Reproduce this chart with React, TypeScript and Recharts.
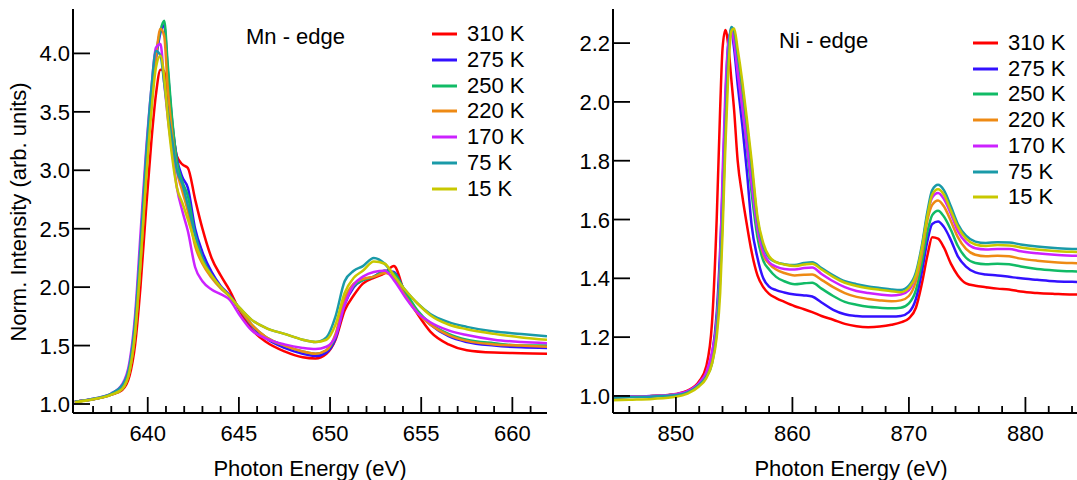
import React from 'react';
import { LineChart, Line, XAxis, YAxis } from 'recharts';

const FONT = '"Liberation Sans", Arial, Helvetica, sans-serif';

// series labels and colours (legend order)
const temps = ['310 K', '275 K', '250 K', '220 K', '170 K', '75 K', '15 K'];
const keys = ['t310', 't275', 't250', 't220', 't170', 't75', 't15'];
const colors = ['#ff0000', '#3311ff', '#11bb66', '#ee8a14', '#cc22ff', '#1a9aa8', '#c8c800'];

// ---- Mn L-edge ----
const mnEnergy = [636.0, 637.0, 638.0, 638.6, 639.0, 639.3, 639.6, 639.9, 640.2, 640.45, 640.7, 640.9, 641.1, 641.35, 641.6, 641.9, 642.2, 642.6, 643.0, 643.5, 644.0, 644.5, 645.0, 645.7, 646.5, 647.5, 648.5, 649.2, 649.8, 650.3, 650.8, 651.3, 651.8, 652.4, 653.0, 653.5, 654.1, 654.8, 655.5, 656.5, 657.5, 659.0, 660.5, 661.9];
const mn310 = [1.02, 1.04, 1.08, 1.12, 1.24, 1.5, 2.0, 2.65, 3.25, 3.65, 3.86, 3.85, 3.6, 3.35, 3.12, 3.05, 3.02, 2.75, 2.5, 2.25, 2.1, 1.97, 1.81, 1.64, 1.53, 1.45, 1.4, 1.39, 1.43, 1.55, 1.8, 1.93, 2.03, 2.08, 2.12, 2.18, 1.95, 1.77, 1.62, 1.51, 1.46, 1.44, 1.435, 1.43];
const mn275 = [1.02, 1.04, 1.085, 1.14, 1.3, 1.62, 2.25, 3.0, 3.65, 3.95, 4.18, 4.24, 3.85, 3.4, 3.1, 2.94, 2.85, 2.5, 2.3, 2.13, 2.01, 1.93, 1.82, 1.67, 1.56, 1.48, 1.43, 1.41, 1.44, 1.56, 1.85, 2.0, 2.06, 2.09, 2.14, 2.13, 1.96, 1.79, 1.68, 1.58, 1.53, 1.5, 1.485, 1.48];
const mn250 = [1.02, 1.04, 1.08, 1.13, 1.28, 1.6, 2.2, 2.95, 3.6, 3.98, 4.2, 4.28, 3.9, 3.42, 3.08, 2.9, 2.78, 2.45, 2.25, 2.1, 2.0, 1.92, 1.82, 1.68, 1.57, 1.5, 1.45, 1.43, 1.46, 1.58, 1.87, 2.01, 2.06, 2.09, 2.14, 2.12, 1.97, 1.8, 1.69, 1.6, 1.55, 1.52, 1.5, 1.5];
const mn220 = [1.02, 1.04, 1.08, 1.13, 1.28, 1.6, 2.2, 2.95, 3.6, 3.97, 4.21, 4.15, 3.7, 3.3, 3.0, 2.82, 2.65, 2.35, 2.2, 2.08, 1.99, 1.92, 1.82, 1.68, 1.57, 1.5, 1.45, 1.43, 1.46, 1.6, 1.9, 2.03, 2.07, 2.09, 2.12, 2.08, 1.93, 1.78, 1.68, 1.59, 1.54, 1.51, 1.5, 1.49];
const mn170 = [1.02, 1.045, 1.09, 1.17, 1.36, 1.75, 2.45, 3.15, 3.7, 4.05, 4.08, 3.75, 3.45, 3.15, 2.85, 2.65, 2.48, 2.17, 2.05, 1.98, 1.94, 1.89, 1.77, 1.63, 1.56, 1.51, 1.48, 1.47, 1.49, 1.58, 1.85, 2.02, 2.09, 2.13, 2.14, 2.06, 1.92, 1.78, 1.7, 1.63, 1.59, 1.55, 1.53, 1.52];
const mn75 = [1.02, 1.045, 1.09, 1.16, 1.33, 1.7, 2.35, 3.1, 3.7, 4.02, 3.98, 3.75, 3.5, 3.25, 3.0, 2.88, 2.7, 2.45, 2.25, 2.1, 2.0, 1.92, 1.83, 1.72, 1.65, 1.6, 1.55, 1.53, 1.57, 1.75, 2.05, 2.14, 2.18, 2.25, 2.2, 2.1, 1.98, 1.86, 1.77, 1.7, 1.66, 1.62, 1.6, 1.58];
const mn15 = [1.015, 1.04, 1.08, 1.13, 1.28, 1.6, 2.2, 2.9, 3.5, 3.88, 3.98, 3.8, 3.45, 3.1, 2.85, 2.72, 2.58, 2.38, 2.22, 2.1, 2.0, 1.92, 1.83, 1.72, 1.65, 1.6, 1.55, 1.53, 1.55, 1.68, 1.95, 2.08, 2.14, 2.22, 2.2, 2.1, 1.98, 1.86, 1.76, 1.68, 1.64, 1.6, 1.57, 1.55];

// ---- Ni L-edge ----
const niEnergy = [844.6, 846, 848, 850, 851, 852, 852.6, 853.1, 853.5, 853.8, 854.0, 854.25, 854.5, 854.75, 855.0, 855.3, 855.7, 856.1, 856.5, 857.0, 857.5, 858.0, 858.6, 859.3, 860.2, 861.0, 861.7, 862.5, 863.5, 864.5, 865.5, 866.5, 867.5, 868.5, 869.3, 870.0, 870.6, 871.1, 871.6, 872.0, 872.5, 873.0, 873.6, 874.2, 874.9, 875.7, 876.6, 877.6, 878.6, 879.6, 881.0, 882.5, 884.0, 885.5];
const ni310 = [0.995, 0.997, 1.0, 1.007, 1.018, 1.05, 1.1, 1.25, 1.6, 1.98, 2.18, 2.245, 2.19, 2.08, 1.97, 1.8, 1.68, 1.58, 1.49, 1.41, 1.37, 1.347, 1.333, 1.32, 1.305, 1.295, 1.285, 1.272, 1.259, 1.245, 1.237, 1.234, 1.236, 1.242, 1.25, 1.264, 1.3, 1.38, 1.48, 1.54, 1.535, 1.505, 1.45, 1.41, 1.383, 1.375, 1.37, 1.365, 1.362, 1.355, 1.35, 1.347, 1.345, 1.345];
const ni275 = [0.998, 0.998, 1.0, 1.005, 1.015, 1.04, 1.075, 1.14, 1.28, 1.5, 1.7, 2.0, 2.2, 2.24, 2.18, 2.06, 1.92, 1.76, 1.58, 1.47, 1.4, 1.372, 1.36, 1.352, 1.345, 1.342, 1.338, 1.318, 1.293, 1.278, 1.272, 1.27, 1.27, 1.27, 1.272, 1.285, 1.33, 1.42, 1.53, 1.585, 1.593, 1.575, 1.53, 1.475, 1.44, 1.42, 1.413, 1.41, 1.405, 1.4, 1.395, 1.39, 1.388, 1.387];
const ni250 = [0.995, 0.997, 1.0, 1.005, 1.014, 1.04, 1.072, 1.13, 1.26, 1.45, 1.66, 1.96, 2.17, 2.25, 2.21, 2.11, 1.98, 1.84, 1.69, 1.54, 1.46, 1.43, 1.405, 1.39, 1.38, 1.383, 1.385, 1.365, 1.34, 1.32, 1.31, 1.303, 1.3, 1.298, 1.3, 1.315, 1.36, 1.45, 1.56, 1.615, 1.63, 1.61, 1.565, 1.51, 1.47, 1.452, 1.448, 1.45, 1.448, 1.44, 1.432, 1.427, 1.424, 1.422];
const ni220 = [0.995, 0.997, 1.0, 1.005, 1.014, 1.04, 1.07, 1.12, 1.24, 1.43, 1.63, 1.93, 2.16, 2.25, 2.22, 2.13, 2.01, 1.88, 1.74, 1.57, 1.48, 1.45, 1.43, 1.418, 1.41, 1.412, 1.413, 1.395, 1.37, 1.35, 1.337, 1.33, 1.325, 1.322, 1.325, 1.34, 1.39, 1.48, 1.6, 1.65, 1.665, 1.645, 1.595, 1.54, 1.5, 1.48, 1.475, 1.477, 1.475, 1.467, 1.46, 1.455, 1.452, 1.45];
const ni170 = [0.998, 0.998, 1.0, 1.006, 1.016, 1.045, 1.08, 1.15, 1.25, 1.45, 1.75, 2.04, 2.2, 2.24, 2.2, 2.1, 1.98, 1.85, 1.72, 1.57, 1.49, 1.455, 1.44, 1.432, 1.43, 1.435, 1.437, 1.415, 1.39, 1.37, 1.357, 1.35, 1.345, 1.342, 1.345, 1.36, 1.41, 1.5, 1.62, 1.675, 1.69, 1.67, 1.62, 1.56, 1.522, 1.502, 1.498, 1.5, 1.5, 1.492, 1.485, 1.48, 1.477, 1.475];
const ni75 = [0.995, 0.996, 0.998, 1.003, 1.012, 1.038, 1.065, 1.11, 1.22, 1.4, 1.6, 1.9, 2.15, 2.255, 2.24, 2.16, 2.05, 1.92, 1.78, 1.6, 1.51, 1.47, 1.455, 1.448, 1.445, 1.452, 1.455, 1.435, 1.41, 1.39, 1.38, 1.372, 1.367, 1.362, 1.36, 1.375, 1.42, 1.51, 1.63, 1.7, 1.718, 1.7, 1.645, 1.585, 1.545, 1.525, 1.52, 1.523, 1.522, 1.515, 1.508, 1.503, 1.5, 1.498];
const ni15 = [0.985, 0.987, 0.99, 0.997, 1.008, 1.033, 1.06, 1.11, 1.2, 1.35, 1.55, 1.85, 2.1, 2.24, 2.25, 2.18, 2.07, 1.94, 1.8, 1.61, 1.52, 1.475, 1.455, 1.447, 1.442, 1.447, 1.45, 1.43, 1.405, 1.385, 1.374, 1.366, 1.361, 1.356, 1.353, 1.368, 1.41, 1.5, 1.615, 1.685, 1.703, 1.685, 1.63, 1.575, 1.535, 1.515, 1.51, 1.513, 1.512, 1.505, 1.498, 1.493, 1.49, 1.488];

// ticks
const mnTicksX = [637, 638, 639, 640, 641, 642, 643, 644, 645, 646, 647, 648, 649, 650, 651, 652, 653, 654, 655, 656, 657, 658, 659, 660, 661];
const mnLabelsX = [640, 645, 650, 655, 660];
const mnTicksY = [1.0, 1.5, 2.0, 2.5, 3.0, 3.5, 4.0];
const niTicksX = [846, 848, 850, 852, 854, 856, 858, 860, 862, 864, 866, 868, 870, 872, 874, 876, 878, 880, 882, 884];
const niLabelsX = [850, 860, 870, 880];
const niTicksY = [1.0, 1.2, 1.4, 1.6, 1.8, 2.0, 2.2];

const buildRows = (energy: number[], series: number[][]) =>
  energy.map((e, i) => {
    const row: any = { e };
    keys.forEach((k, j) => { row[k] = series[j][i]; });
    return row;
  });

const mnData = buildRows(mnEnergy, [mn310, mn275, mn250, mn220, mn170, mn75, mn15]);
const niData = buildRows(niEnergy, [ni310, ni275, ni250, ni220, ni170, ni75, ni15]);

const XTick = (props: any) => {
  const { x, y, payload, labels } = props;
  const major = labels.includes(payload.value);
  return (
    <g>
      <line x1={x} x2={x} y1={y} y2={y - (major ? 16 : 7)} stroke="#000" strokeWidth={1.8} />
      {major && (
        <text x={x} y={y + 28} textAnchor="middle" fontSize={22} fontFamily={FONT} fill="#000">
          {payload.value}
        </text>
      )}
    </g>
  );
};

const YTick = (props: any) => {
  const { x, y, payload } = props;
  return (
    <g>
      <line x1={x} x2={x + 17} y1={y} y2={y} stroke="#000" strokeWidth={1.8} />
      <text x={x - 3} y={y + 8} textAnchor="end" fontSize={22} fontFamily={FONT} fill="#000">
        {Number(payload.value).toFixed(1)}
      </text>
    </g>
  );
};

const frame = { stroke: '#000', strokeWidth: 2 };

interface PanelProps {
  data: any[];
  xDomain: [number, number];
  yDomain: [number, number];
  ticksX: number[];
  labelsX: number[];
  ticksY: number[];
  marginRight: number;
}

const Panel: React.FC<PanelProps> = ({ data, xDomain, yDomain, ticksX, labelsX, ticksY, marginRight }) => (
  <LineChart width={560} height={480} data={data} margin={{ top: 9, right: marginRight, bottom: 0, left: 0 }}>
    <XAxis
      dataKey="e"
      type="number"
      domain={xDomain}
      allowDataOverflow
      ticks={ticksX}
      interval={0}
      height={67}
      tickSize={0}
      tickMargin={0}
      tickLine={false}
      axisLine={frame}
      tick={(p: any) => <XTick {...p} labels={labelsX} />}
    />
    <XAxis xAxisId="top" orientation="top" type="number" domain={xDomain} allowDataOverflow height={0} tick={false} tickLine={false} axisLine={frame} />
    <YAxis
      type="number"
      domain={yDomain}
      allowDataOverflow
      ticks={ticksY}
      interval={0}
      width={73}
      tickSize={0}
      tickMargin={0}
      tickLine={false}
      axisLine={frame}
      tick={(p: any) => <YTick {...p} />}
    />
    <YAxis yAxisId="right" orientation="right" type="number" domain={yDomain} allowDataOverflow width={0} tick={false} tickLine={false} axisLine={frame} />
    {keys.map((k, i) => (
      <Line
        key={k}
        dataKey={k}
        type="monotone"
        stroke={colors[i]}
        strokeWidth={2.5}
        dot={false}
        activeDot={false}
        isAnimationActive={false}
      />
    ))}
  </LineChart>
);

// legend rows: swatch + label, row centre at top + i*step + 11
const LegendBox: React.FC<{ left: number; top: number; step: number }> = ({ left, top, step }) => (
  <div style={{ position: 'absolute', left, top }}>
    {temps.map((t, i) => (
      <div key={t} style={{ position: 'absolute', left: 0, top: Math.round(i * step), height: 22, whiteSpace: 'nowrap' }}>
        <svg width={25} height={22} style={{ position: 'absolute', left: 0, top: 0 }}>
          <line x1={0} x2={25} y1={11} y2={11} stroke={colors[i]} strokeWidth={3} />
        </svg>
        <span style={{ position: 'absolute', left: 35, top: 0, fontSize: 22, lineHeight: '22px' }}>{t}</span>
      </div>
    ))}
  </div>
);

const textStyle: React.CSSProperties = { position: 'absolute', fontSize: 22, lineHeight: '22px', whiteSpace: 'nowrap', color: '#000' };

export default function App() {
  return (
    <div style={{ position: 'absolute', left: 0, top: 0, width: 1077, height: 480, overflow: 'hidden', background: '#fff', fontFamily: FONT }}>
      <div style={{ position: 'absolute', left: 0, top: 0 }}>
        <Panel data={mnData} xDomain={[635.9, 661.9]} yDomain={[0.923, 4.38]} ticksX={mnTicksX} labelsX={mnLabelsX} ticksY={mnTicksY} marginRight={13} />
      </div>
      <div style={{ position: 'absolute', left: 540, top: 0 }}>
        <Panel data={niData} xDomain={[844.6, 885.5]} yDomain={[0.942, 2.316]} ticksX={niTicksX} labelsX={niLabelsX} ticksY={niTicksY} marginRight={10.5} />
      </div>

      <div style={{ ...textStyle, left: 246, top: 26 }}>Mn - edge</div>
      <div style={{ ...textStyle, left: 779, top: 30 }}>Ni - edge</div>

      <LegendBox left={432} top={23} step={25.8} />
      <LegendBox left={973} top={32} step={25.7} />

      <div style={{ ...textStyle, left: 310, top: 458, transform: 'translateX(-50%)' }}>Photon Energy (eV)</div>
      <div style={{ ...textStyle, left: 851, top: 458, transform: 'translateX(-50%)' }}>Photon Energy (eV)</div>
      <div style={{ ...textStyle, left: 19, top: 212, transform: 'translate(-50%, -50%) rotate(-90deg)' }}>
        Norm. Intensity (arb. units)
      </div>
    </div>
  );
}
